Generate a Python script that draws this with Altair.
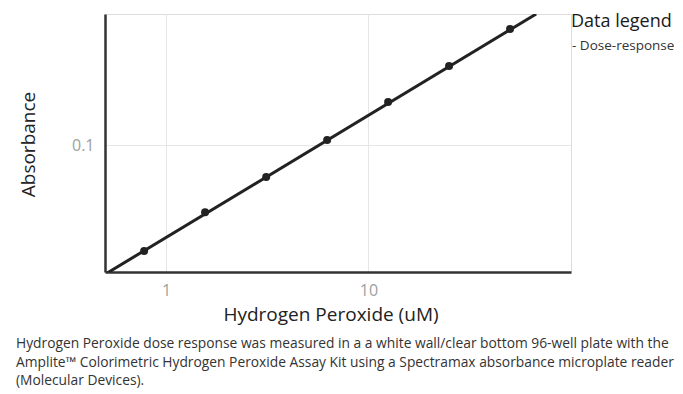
import altair as alt
import pandas as pd

# Data
conc = [0.78, 1.56, 3.125, 6.25, 12.5, 25, 50]
absorb = [0.0138, 0.0285, 0.0549, 0.110, 0.224, 0.439, 0.877]
fit_conc = [0.5, 67.3]
fit_abs = [0.0089, 1.16]
x_ticks = [1, 10]
y_ticks = [0.1]

legend_title = "Data legend"
legend_item = "- Dose-response"
caption = [
    "Hydrogen Peroxide dose response was measured in a a white wall/clear bottom 96-well plate with the",
    "Amplite\u2122 Colorimetric Hydrogen Peroxide Assay Kit using a Spectramax absorbance microplate reader",
    "(Molecular Devices).",
]

pts = pd.DataFrame({"c": conc, "a": absorb})
fit = pd.DataFrame({"c": fit_conc, "a": fit_abs})

FONT = "Open Sans"
xscale = alt.Scale(type="log", domain=[0.5, 100], nice=False)
yscale = alt.Scale(type="log", domain=[0.0093, 1.16], nice=False)

xenc = alt.X(
    "c:Q", scale=xscale,
    axis=alt.Axis(
        title="Hydrogen Peroxide (uM)", values=x_ticks, format="~g",
        labelFont=FONT, labelFontSize=16, labelColor="#a0a0a0", labelPadding=10,
        ticks=False, domainColor="#333333", domainWidth=2.5,
        gridColor="#e6e6e6", titleFont=FONT, titleFontSize=19, titleFontWeight="normal",
        titleColor="#222222", titleX=225.5, titleY=48, titleAnchor="middle",
        titleBaseline="alphabetic",
    ),
)
yenc = alt.Y(
    "a:Q", scale=yscale,
    axis=alt.Axis(
        title="Absorbance", values=y_ticks, format="~g",
        labelFont=FONT, labelFontSize=16, labelColor="#a0a0a0", labelPadding=11,
        ticks=False, domainColor="#333333", domainWidth=2.5,
        gridColor="#e6e6e6", titleFont=FONT, titleFontSize=19, titleFontWeight="normal",
        titleColor="#222222", titleX=-71, titleY=130, titleAnchor="middle",
        titleAngle=270, titleBaseline="alphabetic",
    ),
)

line = alt.Chart(fit).mark_line(color="#222222", strokeWidth=3, clip=True).encode(x=xenc, y=yenc)
dots = alt.Chart(pts).mark_point(filled=True, color="#222222", size=64, opacity=1).encode(x="c:Q", y="a:Q")

leg1 = alt.Chart(pd.DataFrame({"t": [legend_title]})).mark_text(
    align="left", baseline="alphabetic", font=FONT, fontSize=18, color="#1a1a1a"
).encode(text="t:N", x=alt.value(466), y=alt.value(12.5))
leg2 = alt.Chart(pd.DataFrame({"t": [legend_item]})).mark_text(
    align="left", baseline="alphabetic", font=FONT, fontSize=13.5, color="#333333"
).encode(text="t:N", x=alt.value(467), y=alt.value(36))

cap_rows = []
for i, t in enumerate(caption):
    cap_rows.append(
        alt.Chart(pd.DataFrame({"t": [t]})).mark_text(
            align="left", baseline="alphabetic", font=FONT, fontSize=13.8, color="#333333"
        ).encode(text="t:N", x=alt.value(-89), y=alt.value(334.3 + 18.35 * i))
    )

chart = alt.layer(line, dots, leg1, leg2, *cap_rows).properties(
    width=466, height=258,
    autosize=alt.AutoSizeParams(type="none"),
    padding={"left": 97, "top": 6, "right": 104, "bottom": 119},
).configure_view(stroke="#8c8c8c", strokeWidth=1).configure(background="white")

chart.save("out.html", embed_options={"renderer": "svg", "actions": False})
